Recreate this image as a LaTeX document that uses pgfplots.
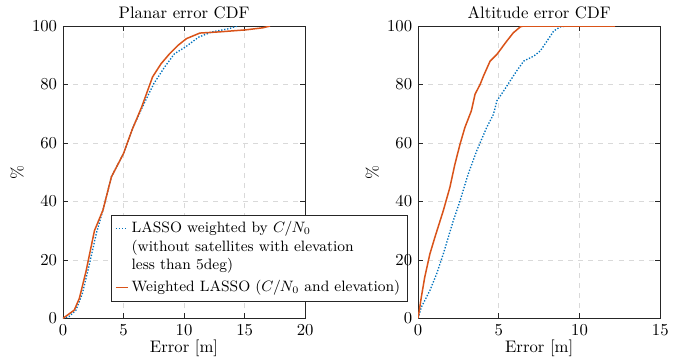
\documentclass[border=0pt]{standalone}
\usepackage{pgfplots}
\pgfplotsset{compat=1.18}
\definecolor{mblue}{rgb}{0,0.447,0.741}
\definecolor{morange}{rgb}{0.85,0.325,0.098}
\definecolor{maxis}{rgb}{0.15,0.15,0.15}
\pgfplotsset{
  cdfax/.style={
    scale only axis, width=145pt, height=175pt,
    ymin=0, ymax=100, ytick={0,20,...,100},
    grid=major, major grid style={dashed, gray!30},
    axis line style={maxis}, tick style={maxis, thin},
    major tick length=3pt,
    xtick pos=both, ytick pos=both, tick align=inside,
    xlabel={Error [m]}, ylabel={\%},
    xlabel style={yshift=4pt}, ylabel style={yshift=-2pt},
    title style={yshift=-5pt},
  },
  upimg/.style={legend image code/.code={\draw[mblue, densely dotted, thick] (0pt,11pt) -- (7pt,11pt);}},
  lowimg/.style={legend image code/.code={\draw[morange, line width=0.9pt] (0pt,0pt) -- (7pt,0pt);}},
}
\begin{document}
\begin{tikzpicture}
\path[use as bounding box] (-37.7pt,-25.7pt) rectangle (377.8pt,190.6pt);
\begin{axis}[cdfax, xmin=0, xmax=20, xtick={0,5,...,20}, title={Planar error CDF},
  legend style={at={(rel axis cs:0.2,0.355)}, anchor=north west, draw=maxis, fill=white,
    font=\small, cells={align=left, anchor=west}, inner sep=2pt, row sep=1pt},
  legend cell align=left]
\addplot[mblue, densely dotted, thick, upimg] coordinates {
(0,0) (0.5,0.6) (1.07,2.8) (1.6,8.5) (2.2,18.8) (2.75,29) (3.3,37) (4.0,48.4) (5.0,56.4)
(5.8,65.5) (6.7,73.5) (7.5,80.3) (8.4,86) (9.2,90.5) (10.1,92.8) (11.2,96.2) (12.3,98)
(13.7,99.1) (14.4,100)};
\addlegendentry{LASSO weighted by $C/N_0$\\(without satellites with elevation\\less than 5deg)}
\addplot[morange, line width=0.9pt, lowimg] coordinates {
(0,0) (0.93,2.8) (1.35,6.8) (1.9,16) (2.6,30) (3.3,37) (4.0,48.4) (5.0,56.4) (5.7,64.4)
(6.5,72.3) (7.4,82.6) (8.1,87.1) (8.8,90.5) (9.5,93.4) (10.2,95.7) (11.3,97.6) (12.9,98)
(15.1,98.7) (16.5,99.4) (17.1,100)};
\addlegendentry{Weighted LASSO ($C/N_0$ and elevation)}
\end{axis}
\begin{axis}[cdfax, xshift=212.6pt, xmin=0, xmax=15, xtick={0,5,...,15}, title={Altitude error CDF}]
\addplot[mblue, densely dotted, thick] coordinates {
(0,0) (0.2,3.8) (0.73,9.5) (1.14,15.1) (1.56,22) (2.18,33.4) (2.6,40.2) (3.1,49.3)
(3.63,57.3) (4.25,65.3) (4.67,69.8) (4.88,74.4) (5.3,77.8) (5.7,81.2) (6.1,84.6)
(6.54,88) (7.16,89.7) (7.57,91.5) (7.99,94.9) (8.4,98.3) (8.8,99.7) (9.2,100) (10,100)};
\addplot[morange, line width=0.9pt] coordinates {
(0,0) (0.2,7.2) (0.41,14) (0.73,22) (1.04,27.7) (1.56,36.8) (1.97,44.8) (2.28,52.7)
(2.6,59.6) (2.9,65.3) (3.3,71) (3.53,76.7) (3.84,80) (4.05,82.9) (4.46,88) (4.88,90.3)
(5.5,94.9) (5.9,97.7) (6.33,99.7) (6.5,100) (12.2,100)};
\end{axis}
\end{tikzpicture}
\end{document}
